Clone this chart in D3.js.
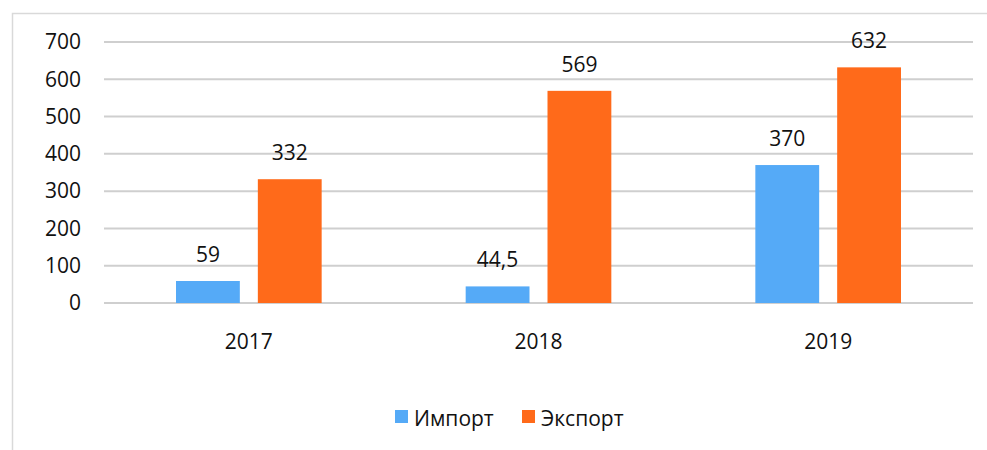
<!DOCTYPE html>
<html>
<head>
<meta charset="utf-8">
<script src="https://cdn.jsdelivr.net/npm/d3@7"></script>
<style>
  body { margin: 0; background: #fff; }
  svg { display: block; font-family: "Open Sans", "Noto Sans", sans-serif; }
</style>
</head>
<body>
<div id="chart"></div>
<script>
// Years on the x axis.
const years = ["2017", "2018", "2019"];
// Series names and values.
const seriesNames = ["Импорт", "Экспорт"];
const importValues = [59, 44.5, 370];
const exportValues = [332, 569, 632];
// Y axis ticks.
const yTicks = [0, 100, 200, 300, 400, 500, 600, 700];

const colors = { "Импорт": "#55aaf7", "Экспорт": "#ff6a1a" };

const w = 987, h = 450;
const margin = { top: 42, right: 14, bottom: 147, left: 104 };
const fontSize = 21;

const svg = d3.select("#chart")
    .append("svg")
    .attr("width", w)
    .attr("height", h);

// Light frame, only left and top edges fall inside the picture.
svg.append("rect")
    .attr("x", 12.5)
    .attr("y", 13.5)
    .attr("width", w + 20)
    .attr("height", h + 20)
    .attr("fill", "none")
    .attr("stroke", "#d9d9d9")
    .attr("stroke-width", 1.5);

const plotW = w - margin.left - margin.right;
const plotH = h - margin.top - margin.bottom;

const g = svg.append("g").attr("transform", `translate(${margin.left},${margin.top})`);

const x0 = d3.scaleBand()
    .domain(years)
    .range([0, plotW]);

const x1 = d3.scaleBand()
    .domain(seriesNames)
    .range([0, x0.bandwidth()])
    .paddingInner(0.22)
    .paddingOuter(0.88);

const y = d3.scaleLinear()
    .domain([0, 700])
    .range([plotH, 0]);

// Grid lines.
g.append("g")
    .selectAll("line")
    .data(yTicks)
    .enter()
    .append("line")
    .attr("x1", 0)
    .attr("x2", plotW)
    .attr("y1", d => y(d))
    .attr("y2", d => y(d))
    .attr("stroke", "#cfcfcf")
    .attr("stroke-width", 2);

// Y axis labels.
const yAxis = g.append("g")
    .call(d3.axisLeft(y).tickValues(yTicks).tickSize(0).tickPadding(23));
yAxis.select(".domain").remove();
yAxis.selectAll("text")
    .attr("font-size", fontSize)
    .attr("font-family", "\"Open Sans\", \"Noto Sans\", sans-serif")
    .attr("fill", "#111");

// X axis labels.
const xAxis = g.append("g")
    .attr("transform", `translate(0,${plotH})`)
    .call(d3.axisBottom(x0).tickSize(0).tickPadding(31));
xAxis.select(".domain").remove();
xAxis.selectAll("text")
    .attr("font-size", fontSize)
    .attr("font-family", "\"Open Sans\", \"Noto Sans\", sans-serif")
    .attr("fill", "#111");

// Build rows of {year, series, value}.
const rows = years.map((yr, i) => ({
    year: yr,
    values: [
        { series: "Импорт", value: importValues[i] },
        { series: "Экспорт", value: exportValues[i] }
    ]
}));

const groups = g.selectAll(".grp")
    .data(rows)
    .enter()
    .append("g")
    .attr("class", "grp")
    .attr("transform", d => `translate(${x0(d.year)},0)`);

groups.selectAll("rect")
    .data(d => d.values)
    .enter()
    .append("rect")
    .attr("x", d => x1(d.series))
    .attr("y", d => y(d.value))
    .attr("width", x1.bandwidth())
    .attr("height", d => plotH - y(d.value))
    .attr("fill", d => colors[d.series]);

groups.selectAll("text")
    .data(d => d.values)
    .enter()
    .append("text")
    .text(d => String(d.value).replace(".", ","))
    .attr("x", d => x1(d.series) + x1.bandwidth() / 2)
    .attr("y", d => y(d.value) - 19)
    .attr("text-anchor", "middle")
    .attr("font-size", fontSize)
    .attr("fill", "#111");

// Legend.
const legendItems = [
    { name: seriesNames[0], x: 395 },
    { name: seriesNames[1], x: 522 }
];
const legend = svg.append("g");
legend.selectAll("rect")
    .data(legendItems)
    .enter()
    .append("rect")
    .attr("x", d => d.x)
    .attr("y", 410)
    .attr("width", 13)
    .attr("height", 13)
    .attr("fill", d => colors[d.name]);
legend.selectAll("text")
    .data(legendItems)
    .enter()
    .append("text")
    .text(d => d.name)
    .attr("x", d => d.x + 19)
    .attr("y", 426)
    .attr("font-size", fontSize)
    .attr("fill", "#111");
</script>
</body>
</html>
